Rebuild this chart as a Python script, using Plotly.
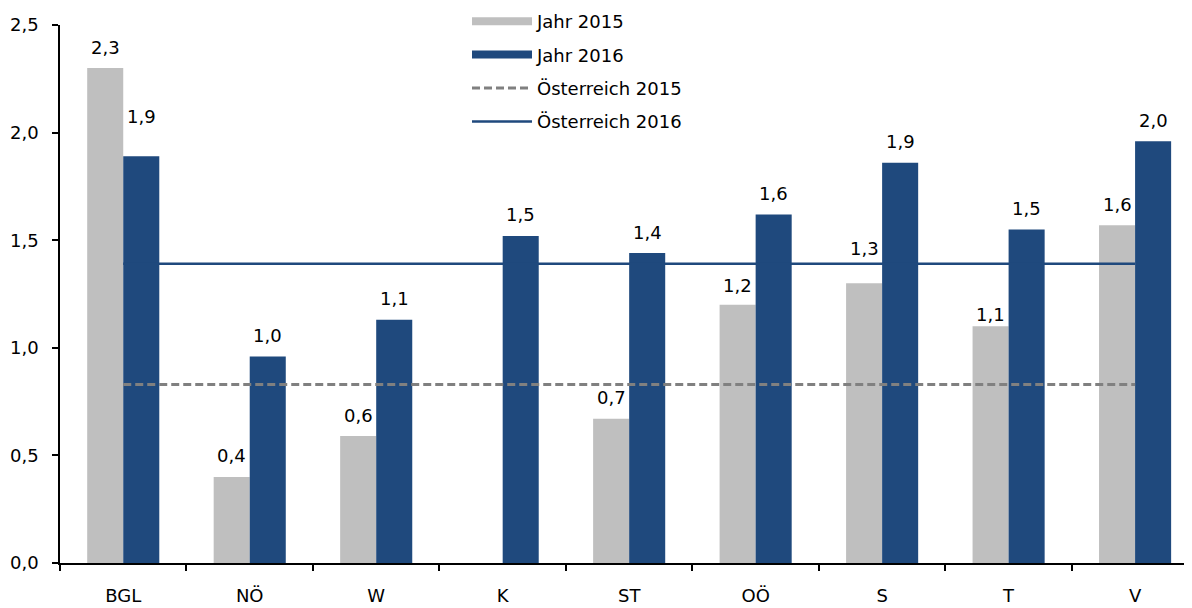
import plotly.graph_objects as go

regions = ["BGL", "NÖ", "W", "K", "ST", "OÖ", "S", "T", "V"]
jahr_2015 = [2.30, 0.40, 0.59, -0.015, 0.67, 1.20, 1.30, 1.10, 1.57]
jahr_2016 = [1.89, 0.96, 1.13, 1.52, 1.44, 1.62, 1.86, 1.55, 1.96]
labels_2015 = ["2,3", "0,4", "0,6", "", "0,7", "1,2", "1,3", "1,1", "1,6"]
labels_2016 = ["1,9", "1,0", "1,1", "1,5", "1,4", "1,6", "1,9", "1,5", "2,0"]
oesterreich_2015 = 0.83
oesterreich_2016 = 1.39
y_ticks = [0.0, 0.5, 1.0, 1.5, 2.0, 2.5]

GREY = "#BFBFBF"
BLUE = "#1F497D"
FONT = "DejaVu Sans"
FS = 18

# the page body adds an 8px margin, so the figure is sized to fit the window
W, H = 1184, 600
ML, MT, MB = 52, 17, 45
PLOT_H = H - MT - MB

fig = go.Figure()
fig.add_trace(go.Bar(name="Jahr 2015", x=regions, y=jahr_2015, marker_color=GREY,
                     marker_line_width=0, showlegend=False, cliponaxis=False))
fig.add_trace(go.Bar(name="Jahr 2016", x=regions, y=jahr_2016, marker_color=BLUE,
                     marker_line_width=0, showlegend=False, cliponaxis=False))
# legend keys drawn as wide bands, like the original legend
fig.add_trace(go.Scatter(name="Jahr 2015", x=[None], y=[None], mode="lines",
                         line=dict(color=GREY, width=8), legendgroup="a", hoverinfo="skip"))
fig.add_trace(go.Scatter(name="Jahr 2016", x=[None], y=[None], mode="lines",
                         line=dict(color=BLUE, width=8), legendgroup="b", hoverinfo="skip"))
fig.add_trace(go.Scatter(name="Österreich 2015", x=[regions[0], regions[-1]],
                         y=[oesterreich_2015, oesterreich_2015], mode="lines",
                         line=dict(color="#808080", width=3, dash="8px,4px"), legendgroup="c"))
fig.add_trace(go.Scatter(name="Österreich 2016", x=[regions[0], regions[-1]],
                         y=[oesterreich_2016, oesterreich_2016], mode="lines",
                         line=dict(color=BLUE, width=2.5), legendgroup="d"))

# label offsets (pixels above bar top), a few hand-placed as in the original
default_off = 21
off_2015 = {"OÖ": 19, "S": 35, "T": 12}
off_2016 = {"BGL": 40}
annotations = []
for r, v, t in zip(regions, jahr_2015, labels_2015):
    if t:
        annotations.append(dict(x=r, y=v, text=t, showarrow=False, xshift=-18,
                                yshift=off_2015.get(r, default_off), yanchor="middle"))
for r, v, t in zip(regions, jahr_2016, labels_2016):
    annotations.append(dict(x=r, y=v, text=t, showarrow=False, xshift=18,
                            yshift=off_2016.get(r, default_off), yanchor="middle"))

fig.update_layout(
    width=W, height=H,
    margin=dict(l=ML, r=0, t=MT, b=MB, autoexpand=False),
    paper_bgcolor="white", plot_bgcolor="white",
    font=dict(family=FONT, size=FS, color="#000000"),
    separators=",.",
    barmode="group", bargap=0.43, bargroupgap=0,
    annotations=annotations,
    showlegend=True,
    legend=dict(xref="container", yref="paper", x=459 / W, y=1 + (MT + 5) / PLOT_H,
                xanchor="left", yanchor="top", traceorder="grouped",
                tracegroupgap=7, itemwidth=60, bgcolor="rgba(0,0,0,0)",
                font=dict(family=FONT, size=FS)),
    xaxis=dict(type="category", range=[-0.5, 8.45], showline=True, linecolor="black",
               linewidth=1.5, ticks="outside", tickson="boundaries", ticklen=6,
               tickcolor="black", tickwidth=1.5, showgrid=False, zeroline=False,
               ticklabelstandoff=16),
    yaxis=dict(range=[0, 2.5], tickvals=y_ticks, tickformat=".1f", showline=True,
               linecolor="black", linewidth=1.5, ticks="outside", ticklen=6,
               tickcolor="black", tickwidth=1.5, showgrid=False, zeroline=False,
               ticklabelstandoff=10),
)

fig.write_html("out.html")
